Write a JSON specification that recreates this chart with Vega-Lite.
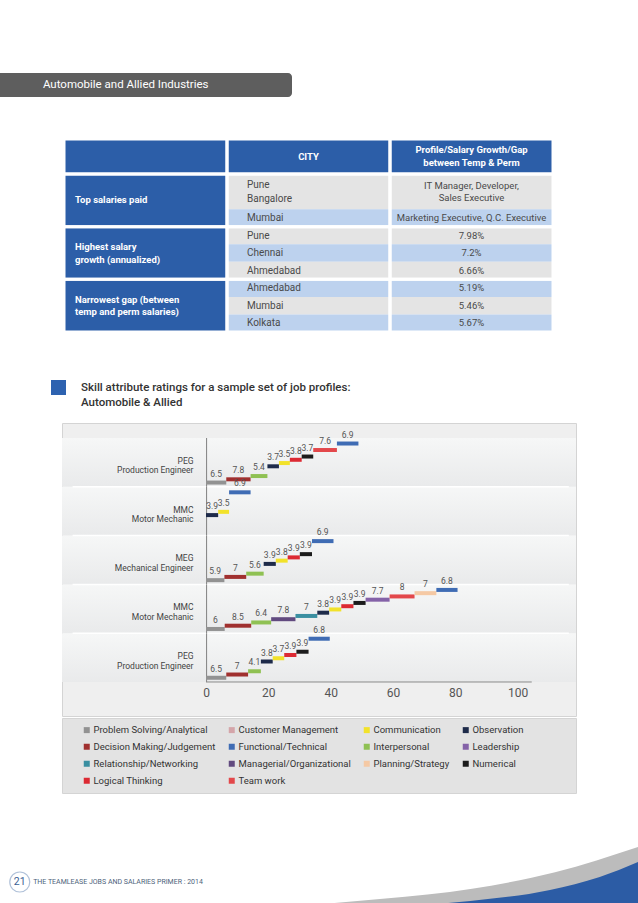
{
  "$schema": "https://vega.github.io/schema/vega-lite/v6.json",
  "padding": 0,
  "background": "white",
  "spacing": 0,
  "config": {"view": {"stroke": null}, "font": "Roboto", "concat": {"spacing": 0}},
  "resolve": {"scale": {"color": "independent", "x": "independent", "y": "independent"}, "legend": {"color": "independent"}},
  "datasets": {
    "skills": [
      {"skill": "Problem Solving/Analytical"}, {"skill": "Customer Management"}, {"skill": "Communication"}, {"skill": "Observation"},
      {"skill": "Decision Making/Judgement"}, {"skill": "Functional/Technical"}, {"skill": "Interpersonal"}, {"skill": "Leadership"},
      {"skill": "Relationship/Networking"}, {"skill": "Managerial/Organizational"}, {"skill": "Planning/Strategy"}, {"skill": "Numerical"},
      {"skill": "Logical Thinking"}, {"skill": "Team work"}
    ],
    "rows": [{"row": "r1"}, {"row": "r2"}, {"row": "r3"}, {"row": "r4"}, {"row": "r5"}],
    "ratings": [
      {"row": "r1", "skill": "Problem Solving/Analytical", "k": 0, "v": 6.5},
      {"row": "r1", "skill": "Decision Making/Judgement", "k": 1, "v": 7.8},
      {"row": "r1", "skill": "Interpersonal", "k": 2, "v": 5.4},
      {"row": "r1", "skill": "Observation", "k": 5, "v": 3.7},
      {"row": "r1", "skill": "Communication", "k": 6, "v": 3.5},
      {"row": "r1", "skill": "Logical Thinking", "k": 7, "v": 3.8},
      {"row": "r1", "skill": "Numerical", "k": 8, "v": 3.7},
      {"row": "r1", "skill": "Team work", "k": 10, "v": 7.6},
      {"row": "r1", "skill": "Functional/Technical", "k": 12, "v": 6.9},
      {"row": "r2", "skill": "Observation", "k": 5, "v": 3.9},
      {"row": "r2", "skill": "Communication", "k": 6, "v": 3.5},
      {"row": "r2", "skill": "Functional/Technical", "k": 12, "v": 6.9},
      {"row": "r3", "skill": "Problem Solving/Analytical", "k": 0, "v": 5.9},
      {"row": "r3", "skill": "Decision Making/Judgement", "k": 1, "v": 7},
      {"row": "r3", "skill": "Interpersonal", "k": 2, "v": 5.6},
      {"row": "r3", "skill": "Observation", "k": 5, "v": 3.9},
      {"row": "r3", "skill": "Communication", "k": 6, "v": 3.8},
      {"row": "r3", "skill": "Logical Thinking", "k": 7, "v": 3.9},
      {"row": "r3", "skill": "Numerical", "k": 8, "v": 3.9},
      {"row": "r3", "skill": "Functional/Technical", "k": 12, "v": 6.9},
      {"row": "r4", "skill": "Problem Solving/Analytical", "k": 0, "v": 6},
      {"row": "r4", "skill": "Decision Making/Judgement", "k": 1, "v": 8.5},
      {"row": "r4", "skill": "Interpersonal", "k": 2, "v": 6.4},
      {"row": "r4", "skill": "Managerial/Organizational", "k": 3, "v": 7.8},
      {"row": "r4", "skill": "Relationship/Networking", "k": 4, "v": 7},
      {"row": "r4", "skill": "Observation", "k": 5, "v": 3.8},
      {"row": "r4", "skill": "Communication", "k": 6, "v": 3.9},
      {"row": "r4", "skill": "Logical Thinking", "k": 7, "v": 3.9},
      {"row": "r4", "skill": "Numerical", "k": 8, "v": 3.9},
      {"row": "r4", "skill": "Leadership", "k": 9, "v": 7.7},
      {"row": "r4", "skill": "Team work", "k": 10, "v": 8},
      {"row": "r4", "skill": "Planning/Strategy", "k": 11, "v": 7},
      {"row": "r4", "skill": "Functional/Technical", "k": 12, "v": 6.8},
      {"row": "r5", "skill": "Problem Solving/Analytical", "k": 0, "v": 6.5},
      {"row": "r5", "skill": "Decision Making/Judgement", "k": 1, "v": 7},
      {"row": "r5", "skill": "Interpersonal", "k": 2, "v": 4.1},
      {"row": "r5", "skill": "Observation", "k": 5, "v": 3.8},
      {"row": "r5", "skill": "Communication", "k": 6, "v": 3.7},
      {"row": "r5", "skill": "Logical Thinking", "k": 7, "v": 3.9},
      {"row": "r5", "skill": "Numerical", "k": 8, "v": 3.9},
      {"row": "r5", "skill": "Functional/Technical", "k": 12, "v": 6.8}
    ],
    "cells": [
      {"col": "c1", "r0": 0, "r1": 2, "shade": "head", "text": ""},
      {"col": "c2", "r0": 0, "r1": 2, "shade": "head", "text": "CITY"},
      {"col": "c3", "r0": 0, "r1": 2, "shade": "head", "text": "Profile/Salary Growth/Gap|between Temp & Perm"},
      {"col": "c1", "r0": 2, "r1": 5, "shade": "head", "text": "Top salaries paid"},
      {"col": "c1", "r0": 5, "r1": 8, "shade": "head", "text": "Highest salary|growth (annualized)"},
      {"col": "c1", "r0": 8, "r1": 11, "shade": "head", "text": "Narrowest gap (between|temp and perm salaries)"},
      {"col": "c2", "r0": 2, "r1": 4, "shade": "gray", "text": "Pune|Bangalore"},
      {"col": "c2", "r0": 4, "r1": 5, "shade": "blue", "text": "Mumbai"},
      {"col": "c2", "r0": 5, "r1": 6, "shade": "gray", "text": "Pune"},
      {"col": "c2", "r0": 6, "r1": 7, "shade": "blue", "text": "Chennai"},
      {"col": "c2", "r0": 7, "r1": 8, "shade": "gray", "text": "Ahmedabad"},
      {"col": "c2", "r0": 8, "r1": 9, "shade": "blue", "text": "Ahmedabad"},
      {"col": "c2", "r0": 9, "r1": 10, "shade": "gray", "text": "Mumbai"},
      {"col": "c2", "r0": 10, "r1": 11, "shade": "blue", "text": "Kolkata"},
      {"col": "c3", "r0": 2, "r1": 4, "shade": "gray", "text": "IT Manager, Developer,|Sales Executive"},
      {"col": "c3", "r0": 4, "r1": 5, "shade": "blue", "text": "Marketing Executive, Q.C. Executive"},
      {"col": "c3", "r0": 5, "r1": 6, "shade": "gray", "text": "7.98%"},
      {"col": "c3", "r0": 6, "r1": 7, "shade": "blue", "text": "7.2%"},
      {"col": "c3", "r0": 7, "r1": 8, "shade": "gray", "text": "6.66%"},
      {"col": "c3", "r0": 8, "r1": 9, "shade": "blue", "text": "5.19%"},
      {"col": "c3", "r0": 9, "r1": 10, "shade": "gray", "text": "5.46%"},
      {"col": "c3", "r0": 10, "r1": 11, "shade": "blue", "text": "5.67%"}
    ],
    "tgroups": [
      {"col": "c1", "r0": 0, "r1": 2}, {"col": "c1", "r0": 2, "r1": 5}, {"col": "c1", "r0": 5, "r1": 8}, {"col": "c1", "r0": 8, "r1": 11},
      {"col": "c2", "r0": 0, "r1": 2}, {"col": "c2", "r0": 2, "r1": 5}, {"col": "c2", "r0": 5, "r1": 8}, {"col": "c2", "r0": 8, "r1": 11},
      {"col": "c3", "r0": 0, "r1": 2}, {"col": "c3", "r0": 2, "r1": 5}, {"col": "c3", "r0": 5, "r1": 8}, {"col": "c3", "r0": 8, "r1": 11}
    ],
    "swooshGray": [
      {"x": 0.44, "y": 0}, {"x": 0.6, "y": 0.13}, {"x": 0.74, "y": 0.29}, {"x": 0.87, "y": 0.55}, {"x": 1.0, "y": 0.952}
    ],
    "swooshBlue": [
      {"x": 0.6, "y": 0}, {"x": 0.737, "y": 0.095}, {"x": 0.862, "y": 0.27}, {"x": 0.94, "y": 0.476}, {"x": 1.0, "y": 0.714}
    ]
  },
  "vconcat": [
    {"width": 1, "height": 73, "data": {"values": []}, "mark": "point"},
    {
      "width": 292, "height": 24,
      "data": {"values": [{"label": "Automobile and Allied Industries"}]},
      "layer": [
        {"mark": {"type": "rect", "color": "#5e5e5e", "cornerRadiusTopRight": 4, "cornerRadiusBottomRight": 4},
         "encoding": {
           "x": {"datum": 0, "type": "quantitative", "scale": {"domain": [0, 1]}, "axis": null}, "x2": {"datum": 1},
           "y": {"datum": 0, "type": "quantitative", "scale": {"domain": [0, 1]}, "axis": null}, "y2": {"datum": 1}}},
        {"mark": {"type": "text", "align": "left", "baseline": "middle", "color": "white", "fontSize": 11.5},
         "encoding": {
           "x": {"datum": 0.147, "type": "quantitative", "scale": {"domain": [0, 1]}, "axis": null},
           "y": {"datum": 0.5, "type": "quantitative", "scale": {"domain": [0, 1]}, "axis": null},
           "text": {"field": "label"}}}
      ]
    },
    {"width": 1, "height": 40, "data": {"values": []}, "mark": "point"},
    {
      "hconcat": [
        {"width": 64, "height": 193, "data": {"values": []}, "mark": "point"},
        {
          "width": 489, "height": 193,
          "layer": [
            {"data": {"name": "cells"}, "mark": {"type": "rect"},
             "encoding": {
               "x": {"field": "col", "type": "nominal", "scale": {"paddingInner": 0, "paddingOuter": 0}, "axis": null},
               "y": {"field": "r0", "type": "quantitative", "scale": {"domain": [0, 11], "reverse": true, "nice": false, "zero": false}, "axis": null},
               "y2": {"field": "r1"},
               "color": {"field": "shade", "type": "nominal", "scale": {"domain": ["head", "gray", "blue"], "range": ["#2c5ea8", "#e4e4e4", "#bdd2ee"]}, "legend": null}}},
            {"data": {"name": "tgroups"}, "mark": {"type": "rect", "fillOpacity": 0, "stroke": "white", "strokeWidth": 3},
             "encoding": {
               "x": {"field": "col", "type": "nominal", "axis": null},
               "y": {"field": "r0", "type": "quantitative", "axis": null},
               "y2": {"field": "r1"}}},
            {"data": {"name": "cells"},
             "transform": [{"filter": "datum.col == 'c1' && datum.text != '' && indexof(datum.text, '|') < 0"}, {"calculate": "(datum.r0 + datum.r1) / 2", "as": "ym"}],
             "mark": {"type": "text", "align": "left", "baseline": "middle", "dx": 11, "color": "white", "fontWeight": "bold", "fontSize": 9.5},
             "encoding": {
               "x": {"field": "col", "type": "nominal", "bandPosition": 0, "axis": null},
               "y": {"field": "ym", "type": "quantitative", "axis": null},
               "text": {"field": "text"}}},
            {"data": {"name": "cells"},
             "transform": [{"filter": "datum.col == 'c1' && indexof(datum.text, '|') >= 0"}, {"calculate": "(datum.r0 + datum.r1) / 2", "as": "ym"}, {"calculate": "split(datum.text, '|')", "as": "lines"}],
             "mark": {"type": "text", "align": "left", "baseline": "middle", "dx": 11, "dy": -6, "color": "white", "fontWeight": "bold", "fontSize": 9.5, "lineHeight": 12.5},
             "encoding": {
               "x": {"field": "col", "type": "nominal", "bandPosition": 0, "axis": null},
               "y": {"field": "ym", "type": "quantitative", "axis": null},
               "text": {"field": "lines"}}},
            {"data": {"name": "cells"},
             "transform": [{"filter": "datum.col == 'c2' && datum.r0 == 0"}, {"calculate": "(datum.r0 + datum.r1) / 2", "as": "ym"}],
             "mark": {"type": "text", "align": "center", "baseline": "middle", "color": "white", "fontWeight": "bold", "fontSize": 9.5},
             "encoding": {
               "x": {"field": "col", "type": "nominal", "bandPosition": 0.5, "axis": null},
               "y": {"field": "ym", "type": "quantitative", "axis": null},
               "text": {"field": "text"}}},
            {"data": {"name": "cells"},
             "transform": [{"filter": "datum.col == 'c3' && datum.r0 == 0"}, {"calculate": "(datum.r0 + datum.r1) / 2", "as": "ym"}, {"calculate": "split(datum.text, '|')", "as": "lines"}],
             "mark": {"type": "text", "align": "center", "baseline": "middle", "dy": -6.5, "color": "white", "fontWeight": "bold", "fontSize": 9.5, "lineHeight": 13},
             "encoding": {
               "x": {"field": "col", "type": "nominal", "bandPosition": 0.5, "axis": null},
               "y": {"field": "ym", "type": "quantitative", "axis": null},
               "text": {"field": "lines"}}},
            {"data": {"name": "cells"},
             "transform": [{"filter": "datum.col == 'c2' && datum.r0 > 0 && indexof(datum.text, '|') < 0"}, {"calculate": "(datum.r0 + datum.r1) / 2", "as": "ym"}],
             "mark": {"type": "text", "align": "left", "baseline": "middle", "dx": 20, "color": "#4a4a4a", "fontSize": 10},
             "encoding": {
               "x": {"field": "col", "type": "nominal", "bandPosition": 0, "axis": null},
               "y": {"field": "ym", "type": "quantitative", "axis": null},
               "text": {"field": "text"}}},
            {"data": {"name": "cells"},
             "transform": [{"filter": "datum.col == 'c2' && datum.r0 > 0 && indexof(datum.text, '|') >= 0"}, {"calculate": "(datum.r0 + datum.r1) / 2", "as": "ym"}, {"calculate": "split(datum.text, '|')", "as": "lines"}],
             "mark": {"type": "text", "align": "left", "baseline": "middle", "dx": 20, "dy": -7, "color": "#4a4a4a", "fontSize": 10, "lineHeight": 14},
             "encoding": {
               "x": {"field": "col", "type": "nominal", "bandPosition": 0, "axis": null},
               "y": {"field": "ym", "type": "quantitative", "axis": null},
               "text": {"field": "lines"}}},
            {"data": {"name": "cells"},
             "transform": [{"filter": "datum.col == 'c3' && datum.r0 > 0 && indexof(datum.text, '|') < 0"}, {"calculate": "(datum.r0 + datum.r1) / 2", "as": "ym"}],
             "mark": {"type": "text", "align": "center", "baseline": "middle", "color": "#4a4a4a", "fontSize": 9.5},
             "encoding": {
               "x": {"field": "col", "type": "nominal", "bandPosition": 0.5, "axis": null},
               "y": {"field": "ym", "type": "quantitative", "axis": null},
               "text": {"field": "text"}}},
            {"data": {"name": "cells"},
             "transform": [{"filter": "datum.col == 'c3' && datum.r0 > 0 && indexof(datum.text, '|') >= 0"}, {"calculate": "(datum.r0 + datum.r1) / 2", "as": "ym"}, {"calculate": "split(datum.text, '|')", "as": "lines"}],
             "mark": {"type": "text", "align": "center", "baseline": "middle", "dy": -5.5, "color": "#4a4a4a", "fontSize": 9.5, "lineHeight": 11.5},
             "encoding": {
               "x": {"field": "col", "type": "nominal", "bandPosition": 0.5, "axis": null},
               "y": {"field": "ym", "type": "quantitative", "axis": null},
               "text": {"field": "lines"}}}
          ]
        }
      ],
      "spacing": 0,
      "bounds": "flush",
      "resolve": {"scale": {"x": "independent", "y": "independent"}}
    },
    {"width": 1, "height": 46, "data": {"values": []}, "mark": "point"},
    {
      "hconcat": [
        {"width": 51, "height": 32, "data": {"values": []}, "mark": "point"},
        {"width": 15, "height": 15, "data": {"values": [{}]},
         "mark": {"type": "rect", "color": "#2d62b0"},
         "encoding": {
           "x": {"datum": 0, "type": "quantitative", "scale": {"domain": [0, 1]}, "axis": null}, "x2": {"datum": 1},
           "y": {"datum": 0, "type": "quantitative", "scale": {"domain": [0, 1]}, "axis": null}, "y2": {"datum": 1}}},
        {"width": 15, "height": 32, "data": {"values": []}, "mark": "point"},
        {"width": 480, "height": 32,
         "data": {"values": [{"t": ["Skill attribute ratings for a sample set of job profiles:", "Automobile & Allied"]}]},
         "mark": {"type": "text", "align": "left", "baseline": "middle", "dy": -8, "fontSize": 11.5, "fontWeight": 500, "color": "#333333", "lineHeight": 15},
         "encoding": {
           "x": {"datum": 0, "type": "quantitative", "scale": {"domain": [0, 1]}, "axis": null},
           "text": {"field": "t"}}}
      ],
      "spacing": 0,
      "bounds": "flush",
      "resolve": {"scale": {"x": "independent", "y": "independent"}}
    },
    {"width": 1, "height": 10, "data": {"values": []}, "mark": "point"},
    {
      "hconcat": [
        {"width": 62, "height": 293, "data": {"values": []}, "mark": "point"},
        {
          "width": 514, "height": 293,
          "view": {"fill": "#efefef", "stroke": "#d4d4d4"},
          "encoding": {
            "y": {"field": "row", "type": "nominal", "title": null,
                  "scale": {"domain": ["r1", "r2", "r3", "r4", "r5"], "paddingInner": 0, "paddingOuter": 0.502, "align": 0.306},
                  "axis": {"title": null, "domain": false, "ticks": false, "labelAlign": "right", "labelBaseline": "middle", "labelFontSize": 8.5, "labelColor": "#444444", "labelPadding": 13, "labelLineHeight": 9.5, "labelOffset": -1.5, "offset": -144, "zindex": 1,
                           "labelExpr": "datum.value == 'r1' || datum.value == 'r5' ? ['PEG', 'Production Engineer'] : datum.value == 'r3' ? ['MEG', 'Mechanical Engineer'] : ['MMC', 'Motor Mechanic']"}}
          },
          "layer": [
            {"data": {"name": "rows"},
             "mark": {"type": "rect", "fill": {"gradient": "linear", "x1": 0, "y1": 0, "x2": 0, "y2": 1, "stops": [{"offset": 0, "color": "#f6f7f7"}, {"offset": 1, "color": "#e9eaeb"}]}},
             "encoding": {
               "x": {"datum": -46.2, "type": "quantitative", "title": null, "scale": {"domain": [-46.2, 118.7], "nice": false, "zero": false}},
               "x2": {"datum": 118.7}}},
            {"data": {"name": "rows"},
             "transform": [{"filter": "datum.row != 'r5'"}],
             "mark": {"type": "rule", "stroke": "white", "strokeWidth": 1.5},
             "encoding": {
               "y": {"field": "row", "type": "nominal", "bandPosition": 1, "title": null},
               "x": {"datum": -42.8, "type": "quantitative", "title": null, "scale": {"domain": [-46.2, 118.7], "nice": false, "zero": false}},
               "x2": {"datum": 116.4}}},
            {"data": {"name": "rows"},
             "mark": {"type": "rect", "color": "#8a8a8a"},
             "encoding": {
               "x": {"datum": 0, "type": "quantitative", "title": null, "scale": {"domain": [-46.2, 118.7], "nice": false, "zero": false}},
               "x2": {"datum": 0.35}}},
            {"data": {"name": "rows"},
             "transform": [{"filter": "datum.row == 'r5'"}],
             "mark": {"type": "rule", "stroke": "#8a8a8a", "strokeWidth": 1},
             "encoding": {
               "y": {"field": "row", "type": "nominal", "bandPosition": 1, "title": null},
               "x": {"datum": 0, "type": "quantitative", "title": null, "scale": {"domain": [-46.2, 118.7], "nice": false, "zero": false}},
               "x2": {"datum": 104.5}}},
            {"data": {"name": "ratings"},
             "transform": [{"stack": "v", "groupby": ["row"], "sort": [{"field": "k"}], "as": ["x0", "x1"]}],
             "mark": {"type": "rule", "strokeWidth": 4, "strokeCap": "butt"},
             "encoding": {
               "x": {"field": "x0", "type": "quantitative", "title": null,
                     "scale": {"domain": [-46.2, 118.7], "nice": false, "zero": false},
                     "axis": {"values": [0, 20, 40, 60, 80, 100], "domain": false, "ticks": false, "grid": false, "labelFontSize": 12, "labelColor": "#555555", "labelPadding": 5, "offset": -34, "title": null, "zindex": 1}},
               "x2": {"field": "x1"},
               "yOffset": {"field": "skill", "type": "nominal",
                           "scale": {"domain": ["Functional/Technical", "Planning/Strategy", "Team work", "Leadership", "Numerical", "Logical Thinking", "Communication", "Observation", "Relationship/Networking", "Managerial/Organizational", "Interpersonal", "Decision Making/Judgement", "Problem Solving/Analytical"], "paddingInner": 0, "paddingOuter": 1.6, "align": 0.6}},
               "color": {"field": "skill", "type": "nominal", "legend": null,
                         "scale": {"domain": ["Problem Solving/Analytical", "Customer Management", "Communication", "Observation", "Decision Making/Judgement", "Functional/Technical", "Interpersonal", "Leadership", "Relationship/Networking", "Managerial/Organizational", "Planning/Strategy", "Numerical", "Logical Thinking", "Team work"],
                                   "range": ["#929292", "#d4a5a9", "#f2e22a", "#1e2b4a", "#a0302f", "#3f6cb4", "#8fc153", "#8462a8", "#3a8fa1", "#614a7f", "#f5c9a4", "#1c1c1c", "#dc2a33", "#e3484b"]}}}},
            {"data": {"name": "ratings"},
             "transform": [{"stack": "v", "groupby": ["row"], "sort": [{"field": "k"}], "as": ["x0", "x1"]}, {"calculate": "(datum.x0 + datum.x1) / 2", "as": "mid"}],
             "mark": {"type": "text", "fontSize": 8.5, "color": "#555555", "baseline": "middle", "dy": -9},
             "encoding": {
               "x": {"field": "mid", "type": "quantitative", "title": null, "scale": {"domain": [-46.2, 118.7], "nice": false, "zero": false}},
               "yOffset": {"field": "skill", "type": "nominal"},
               "text": {"field": "v", "type": "quantitative", "format": ".1~f"}}}
          ]
        }
      ],
      "spacing": 0,
      "bounds": "flush",
      "resolve": {"scale": {"x": "independent", "y": "independent"}}
    },
    {
      "hconcat": [
        {"width": 62, "height": 75, "data": {"values": []}, "mark": "point"},
        {
          "width": 514, "height": 75,
          "view": {"fill": "#e3e3e3", "stroke": "#d4d4d4"},
          "data": {"name": "skills"},
          "mark": {"type": "text", "text": ""},
          "encoding": {
            "color": {"field": "skill", "type": "nominal",
                      "scale": {"domain": ["Problem Solving/Analytical", "Customer Management", "Communication", "Observation", "Decision Making/Judgement", "Functional/Technical", "Interpersonal", "Leadership", "Relationship/Networking", "Managerial/Organizational", "Planning/Strategy", "Numerical", "Logical Thinking", "Team work"],
                                "range": ["#929292", "#d4a5a9", "#f2e22a", "#1e2b4a", "#a0302f", "#3f6cb4", "#8fc153", "#8462a8", "#3a8fa1", "#614a7f", "#f5c9a4", "#1c1c1c", "#dc2a33", "#e3484b"]},
                      "legend": {"orient": "none", "direction": "horizontal", "legendX": 20, "legendY": 7, "columns": 4, "title": null, "symbolType": "square", "symbolSize": 36, "symbolOpacity": 1, "symbolStrokeWidth": 0,
                                 "labelFontSize": 9.5, "labelColor": "#333333", "labelFont": "Roboto", "columnPadding": 11, "rowPadding": 6, "labelOffset": 2, "padding": 0}}
          }
        }
      ],
      "spacing": 0,
      "bounds": "flush",
      "resolve": {"scale": {"color": "independent"}, "legend": {"color": "independent"}}
    },
    {"width": 1, "height": 50, "data": {"values": []}, "mark": "point"},
    {
      "width": 638, "height": 63,
      "layer": [
        {"data": {"name": "swooshGray"}, "mark": {"type": "area", "color": "#bcbcbc", "interpolate": "monotone"},
         "encoding": {
           "x": {"field": "x", "type": "quantitative", "scale": {"domain": [0, 1], "nice": false}, "axis": null},
           "y": {"field": "y", "type": "quantitative", "scale": {"domain": [0, 1], "nice": false}, "axis": null}}},
        {"data": {"name": "swooshBlue"}, "mark": {"type": "area", "color": "#2c5ca5", "interpolate": "monotone"},
         "encoding": {
           "x": {"field": "x", "type": "quantitative", "axis": null},
           "y": {"field": "y", "type": "quantitative", "axis": null}}},
        {"data": {"values": [{"n": "21"}]}, "mark": {"type": "point", "shape": "circle", "size": 400, "filled": false, "stroke": "#8fa7c9", "strokeWidth": 1.2},
         "encoding": {
           "x": {"datum": 0.031, "type": "quantitative"},
           "y": {"datum": 0.397, "type": "quantitative"}}},
        {"data": {"values": [{"n": "21"}]}, "mark": {"type": "text", "fontSize": 10.5, "color": "#3c5f95", "baseline": "middle"},
         "encoding": {
           "x": {"datum": 0.031, "type": "quantitative"},
           "y": {"datum": 0.397, "type": "quantitative"},
           "text": {"field": "n"}}},
        {"data": {"values": [{"t": "THE TEAMLEASE JOBS AND SALARIES PRIMER : 2014"}]}, "mark": {"type": "text", "fontSize": 7, "color": "#4d5f7a", "align": "left", "baseline": "middle"},
         "encoding": {
           "x": {"datum": 0.052, "type": "quantitative"},
           "y": {"datum": 0.397, "type": "quantitative"},
           "text": {"field": "t"}}}
      ]
    }
  ]
}
